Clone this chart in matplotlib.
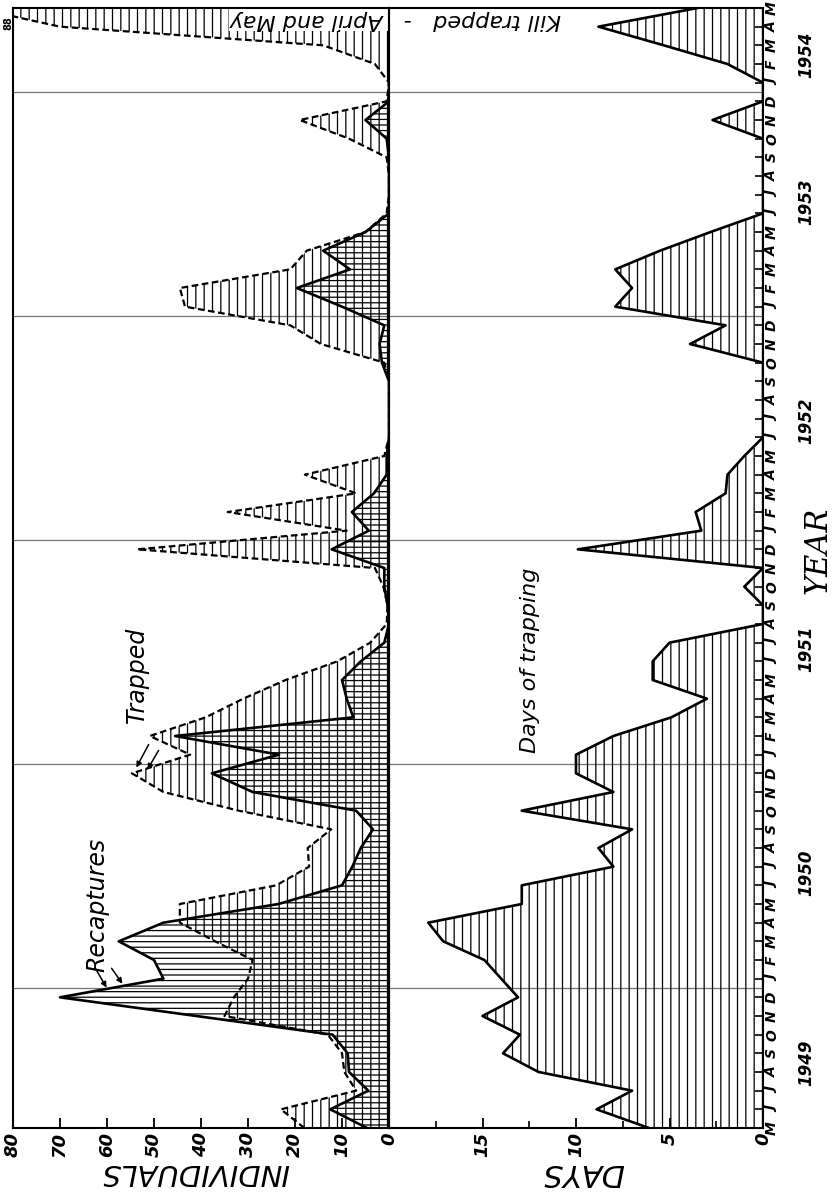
import matplotlib
matplotlib.use("Agg")
import matplotlib.pyplot as plt
import numpy as np
from matplotlib.ticker import FixedLocator, NullFormatter

plt.rcParams['font.family'] = ['DejaVu Sans']
plt.rcParams['hatch.linewidth'] = 0.9

# ---------------- data (monthly, mid-month, May 1949 .. May 1954) ----------------
month_letters = list("MJJASOND") + list("JFMAMJJASOND") * 4 + list("JFMAM")
months = np.arange(len(month_letters))          # 0 .. 60

trapped = [18, 23, 7, 9.5, 10, 13, 35, 33, 30, 29, 37, 44.5,
           44.5, 24, 17, 17.3, 12.3, 32, 48, 54.7, 42.3, 50.9, 39, 31,
           22, 11, 4, 0.5, 0.3, 1.2, 3, 53.6, 9, 34.3, 7, 17.9,
           1, 0, 0, 0, 0, 1, 14.5, 21, 43.4, 44.5, 21, 17.5,
           5, 0.5, 0, 0, 0.5, 8.5, 19, 0.5, 0, 3, 14, 70, 88]
recaptures = [4.7, 12.5, 4.4, 8.5, 8.8, 12, 41, 70, 48, 50, 57.5, 48,
              23.5, 10, 7.8, 6, 3.4, 7, 29, 37.7, 23.4, 45.5, 7.6, 9,
              10, 6, 1, 0, 0.3, 1, 1, 12.2, 4.3, 7.9, 3.2, 0.5,
              0.5, 0, 0, 0, 0, 1.5, 2, 1, 10, 19.6, 8.3, 14,
              5, 0, 0, 0, 0, 0.5, 5, 0, 0, 0, 0, 0, 0]
days = [6.1, 8.9, 7.0, 12.0, 13.9, 13.0, 15.0, 13.1, 14.0, 14.9, 17.1, 17.9,
        12.9, 12.9, 8.0, 8.8, 7.0, 12.9, 8.0, 10.0, 10.0, 8.0, 4.9, 3.0,
        5.9, 5.9, 5.0, 0, 0, 1.0, 0, 9.9, 3.3, 3.6, 2.0, 1.9,
        1.0, 0, 0, 0, 0, 0, 3.9, 2.0, 7.9, 7.0, 7.9, 5.5,
        2.8, 0, 0, 0, 0, 0, 2.7, 0, 0, 1.9, 5.3, 8.8, 3.5]

ind_ticks = [0, 10, 20, 30, 40, 50, 60, 70, 80]
day_major = [0, 5, 10, 15]
day_minor = [2.5, 7.5, 12.5, 17.5]
year_labels = ['1949', '1950', '1951', '1952', '1953', '1954']
year_label_pos = [3.5, 13.7, 25.7, 37.9, 49.6, 57.5]
year_bounds = [7.5, 19.5, 31.5, 43.5, 55.5]

# ---------------- layout helpers (pixel -> figure fraction) ----------------
W, H = 839, 1192
fig = plt.figure(figsize=(W / 100, H / 100), dpi=100)
fig.patch.set_facecolor('white')


def fx(px):
    return px / W


def fy(py):
    return 1 - py / H


LEFT, MID, RIGHT = 13, 389, 763
TOP, BOTTOM = 8, 1128
ax_ind = fig.add_axes([fx(LEFT), fy(BOTTOM), (MID - LEFT) / W, (BOTTOM - TOP) / H])
ax_day = fig.add_axes([fx(MID), fy(BOTTOM), (RIGHT - MID) / W, (BOTTOM - TOP) / H])
ax_day.set_facecolor('none')

for ax in (ax_ind, ax_day):
    ax.set_ylim(0, 60)
    for s in ax.spines.values():
        s.set_linewidth(1.5)
    for yb in year_bounds:
        ax.axhline(yb, color='0.45', lw=0.9, zorder=0.5)

# ---------------- individuals panel ----------------
ax_ind.set_xlim(80, 0)
ax_ind.fill_betweenx(months, 0, trapped, facecolor='none', edgecolor='black',
                     hatch='||', linewidth=0, zorder=1)
ax_ind.fill_betweenx(months, 0, recaptures, facecolor='none', edgecolor='black',
                     hatch='---', linewidth=0, zorder=1)
ax_ind.plot(trapped, months, color='black', lw=1.6, ls=(0, (3, 1.6)), zorder=2)
ax_ind.plot(recaptures, months, color='black', lw=1.9, zorder=2.1)

ax_ind.set_yticks([])
ax_ind.set_xticks(ind_ticks)
ax_ind.set_xticklabels([str(v) for v in ind_ticks])
ax_ind.tick_params(axis='x', direction='in', length=7, width=1.3, pad=3, labelsize=13)
for lab in ax_ind.get_xticklabels():
    lab.set_rotation(90)
    lab.set_fontstyle('italic')
    lab.set_fontweight('bold')

# ---------------- days panel ----------------
ax_day.set_xlim(20, 0)
ax_day.fill_betweenx(months, 0, days, facecolor='none', edgecolor='black',
                     hatch='||', linewidth=0, zorder=1)
ax_day.plot(days, months, color='black', lw=1.9, zorder=2)

ax_day.xaxis.set_major_locator(FixedLocator(day_major))
ax_day.xaxis.set_minor_locator(FixedLocator(day_minor))
ax_day.xaxis.set_minor_formatter(NullFormatter())
ax_day.set_xticklabels([str(v) for v in day_major])
ax_day.tick_params(axis='x', which='major', direction='in', length=7, width=1.3,
                   pad=3, labelsize=13)
ax_day.tick_params(axis='x', which='minor', direction='in', length=5, width=1.2)
for lab in ax_day.get_xticklabels():
    lab.set_rotation(90)
    lab.set_fontstyle('italic')
    lab.set_fontweight('bold')

ax_day.yaxis.tick_right()
ax_day.set_yticks(months)
ax_day.set_yticklabels(month_letters)
ax_day.tick_params(axis='y', which='major', direction='in', length=6, width=1.2,
                   pad=1.5, labelsize=10)
ax_day.tick_params(axis='y', which='both', left=False)
for lab in ax_day.get_yticklabels():
    lab.set_rotation(90)
    lab.set_fontstyle('italic')
    lab.set_fontweight('bold')
    lab.set_va('center')

# year labels
for yl, yp in zip(year_labels, year_label_pos):
    ax_day.text(1.115, yp, yl, transform=ax_day.get_yaxis_transform(),
                rotation=90, ha='center', va='center', fontsize=12,
                fontstyle='italic', fontweight='bold')

# ---------------- texts ----------------
fig.text(fx(818), fy(550), 'YEAR', rotation=90, ha='center', va='center',
         fontsize=22, family='DejaVu Serif', fontstyle='italic')
fig.text(fx(195), fy(1172), 'INDIVIDUALS', rotation=180, ha='center', va='center',
         fontsize=21, fontstyle='italic')
fig.text(fx(583), fy(1172), 'DAYS', rotation=180, ha='center', va='center',
         fontsize=22, fontstyle='italic')
fig.text(fx(97), fy(905), 'Recaptures', rotation=90, ha='center', va='center',
         fontsize=17, fontstyle='italic')
fig.text(fx(137), fy(675), 'Trapped', rotation=90, ha='center', va='center',
         fontsize=17, fontstyle='italic')
fig.text(fx(530), fy(660), 'Days of trapping', rotation=90, ha='center', va='center',
         fontsize=16, fontstyle='italic')
ax_ind.text(fx(395), fy(20), 'Kill trapped   -   April and May', rotation=180,
            transform=fig.transFigure, ha='center', va='center', fontsize=16,
            fontstyle='italic', zorder=2.4, clip_on=False,
            bbox=dict(facecolor='white', edgecolor='none', pad=0.5))
fig.text(fx(8), fy(23), '88', rotation=90, ha='center', va='center', fontsize=7,
         fontweight='bold')

# annotation arrows
for (x0, y0, x1, y1) in [(94, 966, 108, 990), (110, 966, 124, 986),
                         (150, 742, 135, 770), (160, 748, 146, 772)]:
    fig.add_artist(matplotlib.patches.FancyArrowPatch(
        (fx(x0), fy(y0)), (fx(x1), fy(y1)), transform=fig.transFigure,
        arrowstyle='-|>', mutation_scale=8, lw=1.1, color='black'))

fig.savefig('out.png', dpi=100, facecolor='white')
